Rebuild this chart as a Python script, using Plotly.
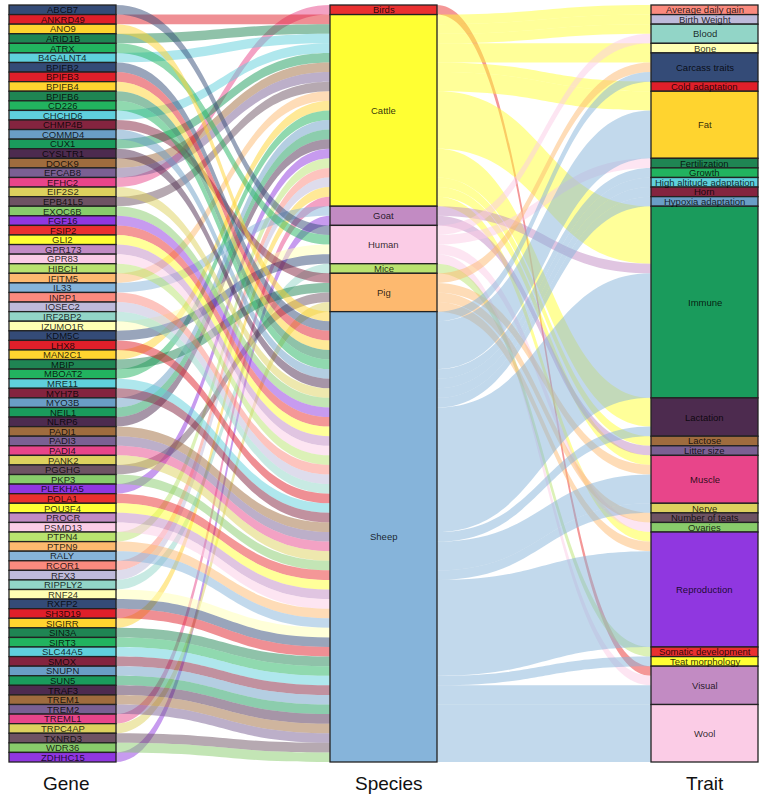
import plotly.graph_objects as go

# ---- palette, in the order the strata use it ----
palette = ["#344B77", "#E01F2A", "#FFD42F", "#1F8553", "#22B35F", "#5FD0DC", "#84243F",
           "#6A9EC6", "#1A9B5C", "#4D2B4F", "#9F6C3E", "#7A6093", "#E8458A", "#DDD15E",
           "#6E5363", "#88CC6B", "#9037E0", "#EA3030", "#FFFF33", "#C28BC3", "#FBCCE6",
           "#B9E36F", "#FDB96F", "#86B4DA", "#FB8A7E", "#BEBADA", "#92D5C7", "#FFFFB3"]

species = ["Birds", "Cattle", "Goat", "Human", "Mice", "Pig", "Sheep"]

traits = ["Average daily gain", "Birth Weight", "Blood", "Bone", "Carcass traits",
          "Cold adaptation", "Fat", "Fertilization", "Growth", "High altitude adaptation",
          "Horn", "Hypoxia adaptation", "Immune", "Lactation", "Lactose", "Litter size",
          "Muscle", "Nerve", "Number of teats", "Ovaries", "Reproduction",
          "Somatic development", "Teat morphology", "Visual", "Wool"]

genes = ["ABCB7", "ANKRD49", "ANO9", "ARID1B", "ATRX", "B4GALNT4", "BPIFB2", "BPIFB3", "BPIFB4",
         "BPIFB6", "CD226", "CHCHD6", "CHMP4B", "COMMD4", "CUX1", "CYSLTR1", "DOCK9", "EFCAB8",
         "EFHC2", "EIF2S2", "EPB41L5", "EXOC6B", "FGF16", "FSIP2", "GLI2", "GPR173", "GPR83",
         "HIBCH", "IFITM5", "IL33", "INPP1", "IQSEC2", "IRF2BP2", "IZUMO1R", "KDM5C", "LHX8",
         "MAN2C1", "MBIP", "MBOAT2", "MRE11", "MYH7B", "MYO3B", "NEIL1", "NLRP6", "PADI1",
         "PADI3", "PADI4", "PANK2", "PGGHG", "PKP3", "PLEKHA5", "POLA1", "POU3F4", "PROCR",
         "PSMD13", "PTPN4", "PTPN9", "RALY", "RCOR1", "RFX3", "RIPPLY2", "RNF24", "RXFP2",
         "SH3D19", "SIGIRR", "SIN3A", "SIRT3", "SLC44A5", "SMOX", "SNUPN", "SUN5", "TRAF3",
         "TREM1", "TREM2", "TREML1", "TRPC4AP", "TXNRD3", "WDR36", "ZDHHC15"]

birds_genes = ["EFHC2"]
cattle_genes = ["ANKRD49", "ARID1B", "B4GALNT4", "CHCHD6", "CUX1", "DOCK9", "EFCAB8", "EPB41L5",
                "IFITM5", "MAN2C1", "MBOAT2", "MYO3B", "NEIL1", "NLRP6", "PLEKHA5", "PTPN4",
                "RCOR1", "RFX3", "SIGIRR", "TREML1"]
goat_genes = ["IL33", "ZDHHC15"]
human_genes = ["ABCB7", "ATRX", "IZUMO1R", "KDM5C"]
mice_genes = ["RIPPLY2"]
pig_genes = ["CHMP4B", "MBIP", "PGGHG", "TRPC4AP"]
sheep_genes = ["ANO9", "BPIFB2", "BPIFB3", "BPIFB4", "BPIFB6", "CD226", "COMMD4", "CYSLTR1",
               "EIF2S2", "EXOC6B", "FGF16", "FSIP2", "GLI2", "GPR173", "GPR83", "HIBCH", "INPP1",
               "IQSEC2", "IRF2BP2", "LHX8", "MRE11", "MYH7B", "PADI1", "PADI3", "PADI4", "PANK2",
               "PKP3", "POLA1", "POU3F4", "PROCR", "PSMD13", "PTPN9", "RALY", "RNF24", "RXFP2",
               "SH3D19", "SIN3A", "SIRT3", "SLC44A5", "SMOX", "SNUPN", "SUN5", "TRAF3", "TREM1",
               "TREM2", "TXNRD3", "WDR36"]

birds_traits = {"Visual": 1}
cattle_traits = {"Average daily gain": 1, "Birth Weight": 1, "Blood": 1, "Bone": 1,
                 "Carcass traits": 1, "Cold adaptation": 1, "Fat": 2, "Immune": 6,
                 "Lactation": 3, "Lactose": 1, "Muscle": 1, "Reproduction": 1}
goat_traits = {"Immune": 1, "Litter size": 1}
human_traits = {"Blood": 1, "Fertilization": 1, "Ovaries": 1, "Visual": 1}
mice_traits = {"Somatic development": 1}
pig_traits = {"Carcass traits": 1, "Muscle": 1, "Number of teats": 1, "Reproduction": 1}
sheep_traits = {"Carcass traits": 1, "Fat": 5, "Growth": 1, "High altitude adaptation": 1,
                "Horn": 1, "Hypoxia adaptation": 1, "Immune": 13, "Lactation": 1, "Muscle": 3,
                "Nerve": 1, "Reproduction": 10, "Teat morphology": 1, "Visual": 2, "Wool": 6}

gene_lists = [birds_genes, cattle_genes, goat_genes, human_genes, mice_genes, pig_genes, sheep_genes]
trait_tables = [birds_traits, cattle_traits, goat_traits, human_traits, mice_traits, pig_traits, sheep_traits]


def rgba(hex_colour, alpha):
    h = hex_colour.lstrip("#")
    return f"rgba({int(h[:2], 16)},{int(h[2:4], 16)},{int(h[4:], 16)},{alpha})"


# Stratum colours: the first six genes start the palette, then it runs on from its
# beginning through the genes, species and traits.
gene_colours = palette[:6] + [palette[i % 28] for i in range(len(genes) - 6)]
species_colours = [palette[(17 + i) % 28] for i in range(len(species))]
trait_colours = [palette[(24 + i) % 28] for i in range(len(traits))]

labels = genes + species + traits
colours = gene_colours + species_colours + trait_colours
gi = {g: i for i, g in enumerate(genes)}
si = {s: i + len(genes) for i, s in enumerate(species)}
ti = {t: i + len(genes) + len(species) for i, t in enumerate(traits)}

src, tgt, val = [], [], []
for s, members in zip(species, gene_lists):
    for g in members:
        src.append(gi[g]); tgt.append(si[s]); val.append(1)
for s, table in zip(species, trait_tables):
    for t, n in table.items():
        src.append(si[s]); tgt.append(ti[t]); val.append(n)

LINK_ALPHA = 0.5
link_colours = [rgba(colours[i], LINK_ALPHA) for i in src]

# Stack each column in its listed order; plotly places a node by its centre
heights = {}
for a, b, v in zip(src, tgt, val):
    heights[b] = heights.get(b, 0) + v
for g in gi.values():
    heights[g] = 1
total = len(genes)

W, H = 767, 803
L, R, T, B = 9, 9, 5, 41
plot_w, plot_h = W - L - R, H - T - B
THICK = 107

col_centre = [(THICK / 2) / plot_w, 0.5, 1 - (THICK / 2) / plot_w]
node_x, node_y = [0] * len(labels), [0] * len(labels)
for cx, names in zip(col_centre, (genes, species, traits)):
    cum = 0
    for name in names:
        idx = labels.index(name)
        h = heights[idx]
        node_x[idx] = cx
        node_y[idx] = (cum + h / 2) / total
        cum += h

fig = go.Figure(go.Sankey(
    arrangement="fixed",
    domain=dict(x=[0, 1], y=[0, 1]),
    node=dict(
        customdata=labels, hovertemplate="%{customdata}<extra></extra>",
        pad=0, thickness=THICK,
        x=node_x, y=node_y, color=colours,
        line=dict(color="#222222", width=1.3),
    ),
    link=dict(source=src, target=tgt, value=val, color=link_colours,
              line=dict(width=0)),
))

annotations = []
for i, name in enumerate(labels):
    annotations.append(dict(
        text=name, x=node_x[i], y=1 - node_y[i],
        xref="paper", yref="paper", xanchor="center", yanchor="middle",
        showarrow=False, borderpad=0, borderwidth=0,
        font=dict(family="Liberation Sans, Arial, sans-serif", size=9.5, color="rgba(0,0,0,0.82)"),
    ))
for title, px in (("Gene", 66), ("Species", 389), ("Trait", 705)):
    annotations.append(dict(
        text=title, x=(px - L) / plot_w, y=-(784 - (H - B)) / plot_h,
        xref="paper", yref="paper", xanchor="center", yanchor="middle",
        showarrow=False,
        font=dict(family="Liberation Sans, Arial, sans-serif", size=19, color="#111111"),
    ))

fig.update_layout(
    width=W, height=H, margin=dict(l=L, r=R, t=T, b=B, pad=0),
    paper_bgcolor="white", plot_bgcolor="white",
    annotations=annotations, showlegend=False,
)
fig.write_html("out.html", config={"displayModeBar": False},
               post_script="document.body.style.margin='0';")
